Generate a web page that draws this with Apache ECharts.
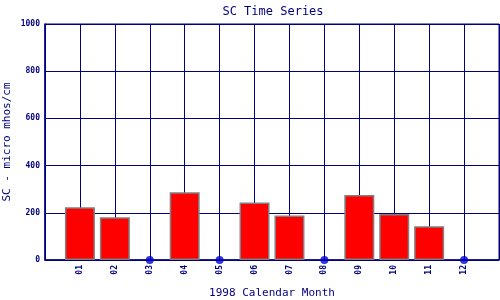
<!DOCTYPE html>
<html><head><meta charset="utf-8">
<script src="https://cdn.jsdelivr.net/npm/echarts@6/dist/echarts.min.js"></script>
<style>html,body{margin:0;padding:0;background:#fff}#c{width:500px;height:300px}</style>
</head><body><div id="c"></div>
<script>
var months = ["01","02","03","04","05","06","07","08","09","10","11","12"];
var scValues = [223,181,null,287,null,244,189,null,275,195,143,null];
var yTicks = [0,200,400,600,800,1000];

var navy = "#000080";
var barData = [], missData = [];
months.forEach(function(m,i){
  if (scValues[i] === null) missData.push([i+1, 0]);
  else barData.push([i+1, scValues[i]]);
});
var chart = echarts.init(document.getElementById('c'), null, {renderer:'canvas'});
chart.setOption({
  animation:false,
  backgroundColor:'#fff',
  title:{text:'SC Time Series', left:268, top:1, textAlign:'center',
    textStyle:{fontFamily:'DejaVu Sans Mono', fontSize:12, fontWeight:'normal', color:navy}},
  grid:{left:45, right:1, top:24, bottom:40, show:true, borderColor:navy, borderWidth:1,
    containLabel:false, outerBoundsMode:'none'},
  xAxis:{type:'value', min:0, max:13, interval:1,
    name:'1998 Calendar Month', nameLocation:'middle', nameGap:28, nameMoveOverlap:false,
    nameTextStyle:{fontFamily:'DejaVu Sans Mono', fontSize:11, color:navy},
    axisLine:{lineStyle:{color:navy, width:1.5}},
    axisTick:{show:false},
    splitLine:{show:true, lineStyle:{color:navy, width:1}},
    axisLabel:{rotate:90, fontFamily:'DejaVu Sans Mono', fontSize:8, fontWeight:'bold', color:navy, margin:5,
      formatter:function(v){ return (v>=1 && v<=months.length) ? months[v-1] : ''; }}},
  yAxis:{type:'value', min:0, max:1000, interval:200,
    name:'SC - micro mhos/cm', nameLocation:'middle', nameGap:32, nameMoveOverlap:false,
    nameTextStyle:{fontFamily:'DejaVu Sans Mono', fontSize:11, color:navy},
    axisLine:{show:true, lineStyle:{color:navy, width:1.5}},
    axisTick:{show:false},
    splitLine:{show:true, lineStyle:{color:navy, width:1}},
    axisLabel:{fontFamily:'DejaVu Sans Mono', fontSize:8, fontWeight:'bold', color:navy, margin:5,
      formatter:function(v){ return yTicks.indexOf(v)>=0 ? String(v) : ''; }}},
  series:[
    {type:'bar', data:barData, barWidth:30, z:3,
      itemStyle:{color:'#ff0000', borderColor:'#808080', borderWidth:1.5}},
    {type:'scatter', data:missData, symbol:'circle', symbolSize:8, z:4,
      itemStyle:{color:'#0000cc'}}
  ]
});
</script></body></html>
